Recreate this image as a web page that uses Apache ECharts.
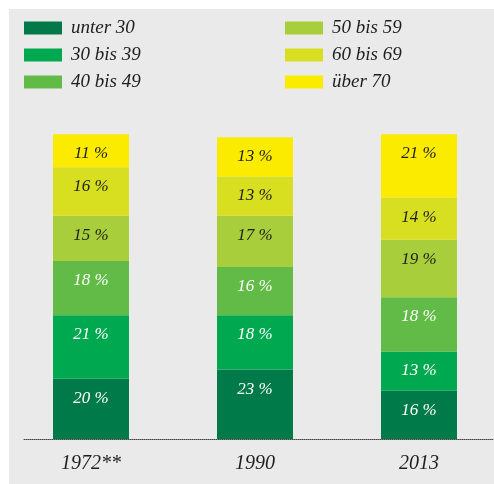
<!DOCTYPE html>
<html>
<head>
<meta charset="utf-8">
<script src="https://cdn.jsdelivr.net/npm/echarts@6/dist/echarts.min.js"></script>
<style>
  html, body { margin: 0; padding: 0; background: #fff; }
  #chart { position: absolute; left: 9px; top: 9px; width: 485px; height: 475px; }
</style>
</head>
<body>
<div id="chart"></div>
<script>
var years = ['1972**', '1990', '2013'];
var groups = ['unter 30', '30 bis 39', '40 bis 49', '50 bis 59', '60 bis 69', 'über 70'];
var unter30 = [20, 23, 16];
var bis39 = [21, 18, 13];
var bis49 = [18, 16, 18];
var bis59 = [15, 17, 19];
var bis69 = [16, 13, 14];
var ueber70 = [11, 13, 21];
var values = [unter30, bis39, bis49, bis59, bis69, ueber70];
var colors = ['#007a48', '#00a84f', '#62bb47', '#a8ce3b', '#d8df21', '#faeb00'];
var labelColors = ['#ffffff', '#ffffff', '#ffffff', '#1e1e1e', '#1e1e1e', '#1e1e1e'];

var font = '"Liberation Serif", "DejaVu Serif", serif';

var myChart = echarts.init(document.getElementById('chart'));

var series = groups.map(function (name, i) {
    return {
        name: name,
        type: 'bar',
        stack: 'all',
        barWidth: 76,
        data: values[i],
        itemStyle: { color: colors[i] },
        label: {
            show: true,
            position: 'insideTop',
            distance: 11,
            formatter: function (p) { return p.value + ' %'; },
            color: labelColors[i],
            fontFamily: font,
            fontStyle: 'italic',
            fontSize: 17
        }
    };
});

var legendText = {
    fontFamily: font,
    fontStyle: 'italic',
    fontSize: 19,
    color: '#1e1e1e',
    lineHeight: 20,
    padding: [0, 0, 0, 4]
};

myChart.setOption({
    backgroundColor: '#eaeaea',
    animation: false,
    legend: [{
        data: groups.slice(0, 3),
        orient: 'vertical',
        left: 15,
        top: 9,
        icon: 'rect',
        itemWidth: 38,
        itemHeight: 13,
        itemGap: 7,
        padding: 0,
        textStyle: legendText
    }, {
        data: groups.slice(3),
        orient: 'vertical',
        left: 276,
        top: 9,
        icon: 'rect',
        itemWidth: 38,
        itemHeight: 13,
        itemGap: 7,
        padding: 0,
        textStyle: legendText
    }],
    grid: [
        { left: 0, width: 492, top: 98, bottom: 45, outerBoundsMode: 'none' },
        { left: 15, right: 0, top: 98, bottom: 45, outerBoundsMode: 'none' }
    ],
    xAxis: [{
        type: 'category',
        gridIndex: 0,
        data: years,
        axisLine: { show: false },
        axisTick: { show: false },
        axisLabel: {
            margin: 15,
            fontFamily: font,
            fontStyle: 'italic',
            fontSize: 20,
            color: '#1e1e1e'
        }
    }, {
        type: 'category',
        gridIndex: 1,
        data: years,
        axisLine: { show: true, lineStyle: { color: '#444', type: [1, 1], width: 1 } },
        axisTick: { show: false },
        axisLabel: { show: false }
    }],
    yAxis: [
        { type: 'value', gridIndex: 0, min: 0, max: 110, show: false },
        { type: 'value', gridIndex: 1, min: 0, max: 110, show: false }
    ],
    series: series
});
</script>
</body>
</html>
